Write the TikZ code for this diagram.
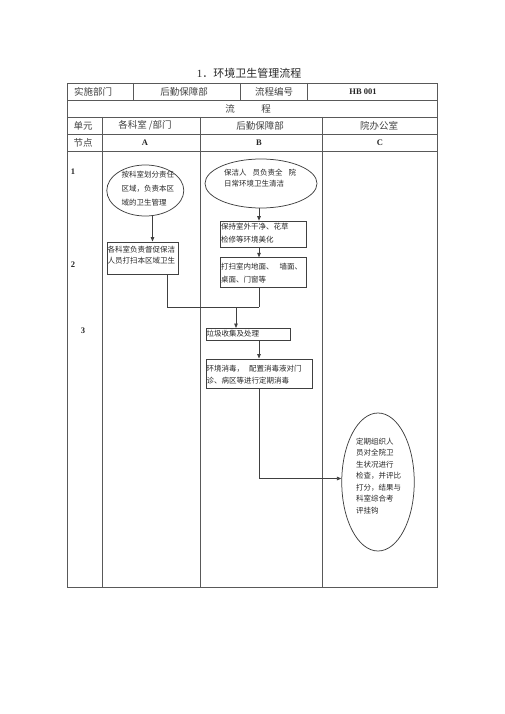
\documentclass[tikz,border=0pt]{standalone}
\usepackage{fontspec}
\setmainfont{Liberation Serif}
\newfontfamily\cjk{Noto Sans CJK SC}
\usetikzlibrary{arrows.meta,shapes.geometric}
\begin{document}
\begin{tikzpicture}[x=1pt,y=-1pt,
  tline/.style={draw=black!65, line width=0.75pt},
  fline/.style={draw=black!75, line width=0.75pt},
  arr/.style={fline, -{Triangle[length=4.5pt,width=3.6pt]}},
  ell/.style={ellipse, fline, inner sep=0pt},
  fbox/.style={rectangle, fline, inner sep=0pt, anchor=north west},
  ftext/.style={anchor=north west, inner sep=0pt, align=left, font=\cjk\fontsize{7.5}{#1}\selectfont, text=black!85},
  ftext/.default=12,
  hd/.style={inner sep=0pt, font=\cjk\fontsize{9.5}{11}\selectfont, text=black!75},
  lat/.style={inner sep=0pt, font=\bfseries\fontsize{8.5}{10}\selectfont, text=black!85},
  ]
\useasboundingbox (0,0) rectangle (505,714);

% title
\node[inner sep=0pt, font=\fontsize{11}{13}\selectfont, text=black!85] (title) at (249,73) {1{\cjk ．环境卫生管理流程}};

% table
\draw[tline] (67,83) rectangle (437,587);
\foreach \y in {100,117,134,151} \draw[tline] (67,\y) -- (437,\y);
\foreach \x in {133,240,307} \draw[tline] (\x,83) -- (\x,100);
\foreach \x in {102,200,322} \draw[tline] (\x,117) -- (\x,587);

% header texts
\node[hd] (h1) at (93,91.5) {实施部门};
\node[hd] (h2) at (184,91.5) {后勤保障部};
\node[hd] (h3) at (274,91.5) {流程编号};
\node[lat] (h4) at (363,91.5) {HB 001};
\node[hd] (h5) at (230,108.5) {流};
\node[hd] (h6) at (266,108.5) {程};
\node[hd] (u0) at (83,125.5) {单元};
\node[hd] (u1) at (145,125.5) {各科室 /部门};
\node[hd] (u2) at (260,125.5) {后勤保障部};
\node[hd] (u3) at (379,125.5) {院办公室};
\node[hd] (n0) at (83,142.5) {节点};
\node[lat] (nA) at (145,142.5) {A};
\node[lat] (nB) at (259,142.5) {B};
\node[lat] (nC) at (380,142.5) {C};

% step numbers
\node[lat] (s1) at (73,171.5) {1};
\node[lat] (s2) at (73,265) {2};
\node[lat] (s3) at (83,330.5) {3};

% column A
\node[ell, minimum width=77pt, minimum height=51pt] (eA) at (145.3,190.5) {};
\node[ftext=14] (teA) at (121.5,171) {按科室划分责任\\区域，负责本区\\域的卫生管理};
\node[fbox, minimum width=71.5pt, minimum height=32.5pt] (bA2) at (106.7,241.5) {};
\node[ftext=11] (tbA2) at (107.5,245.5) {各科室负责督促保洁\\人员打扫本区域卫生};

% column B
\node[ell, minimum width=112pt, minimum height=49pt] (eB) at (261,183.5) {};
\node[ftext=11.5] (teB) at (224,168.7) {保洁人\hspace{6pt}员负责全\hspace{6pt}院\\日常环境卫生清洁};
\node[fbox, minimum width=86pt, minimum height=26pt] (bB1) at (220,220.7) {};
\node[ftext=13.3] (tbB1) at (221,222.7) {保持室外干净、花草\\检修等环境美化};
\node[fbox, minimum width=86pt, minimum height=30pt] (bB2) at (220,257.3) {};
\node[ftext=12.7] (tbB2) at (221,263.3) {打扫室内地面、\hspace{6pt}墙面、\\桌面、门窗等};
\node[fbox, minimum width=84pt, minimum height=12pt] (bG) at (205.5,328) {};
\node[ftext] (tbG) at (206.5,330) {垃圾收集及处理};
\node[fbox, minimum width=106pt, minimum height=29pt] (bE) at (205.5,358.5) {};
\node[ftext] (tbE) at (206.5,365) {环境消毒，\hspace{5pt}配置消毒液对门\\诊、病区等进行定期消毒};

% column C
\node[ell, minimum width=72.5pt, minimum height=138pt] (eC) at (378,482) {};
\node[ftext=11.5] (teC) at (356,437.7) {定期组织人\\员对全院卫\\生状况进行\\检查，并评比\\打分，结果与\\科室综合考\\评挂钩};

% helper coordinates
\coordinate (pA) at (152.5,0);
\coordinate (pB) at (259,0);
\coordinate (jA) at (167.5,307);
\coordinate (jn) at (259,307);
\coordinate (jm) at (236,307);
\coordinate (tE) at (259,478.5);

% connectors
\draw[arr] (eA.south -| pA) -- (bA2.north -| pA);
\draw[fline] (bA2.south -| jA) -- (jA) -- (jn);
\draw[arr] (eB.south -| pB) -- (bB1.north -| pB);
\draw[arr] (bB1.south -| pB) -- (bB2.north -| pB);
\draw[fline] (bB2.south -| pB) -- (jn);
\draw[arr] (jm) -- (bG.north -| jm);
\draw[arr] (bG.south -| pB) -- (bE.north -| pB);
\draw[arr] (bE.south -| pB) -- (tE) -- (tE -| eC.west);
\end{tikzpicture}
\end{document}
